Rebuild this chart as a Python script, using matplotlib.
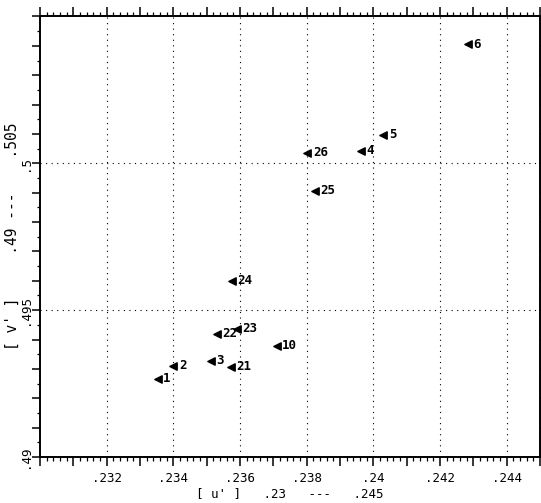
import matplotlib
matplotlib.use("Agg")
import matplotlib.pyplot as plt
from matplotlib.ticker import MultipleLocator, FuncFormatter

labels = ["1", "2", "3", "21", "22", "23", "10", "24", "26", "4", "5", "6", "25"]
u_prime = [0.23353, 0.23400, 0.23513, 0.23573, 0.23530, 0.23590, 0.23710,
           0.23575, 0.23802, 0.23963, 0.24030, 0.24283, 0.23825]
v_prime = [0.49266, 0.49310, 0.49328, 0.49308, 0.49419, 0.49436, 0.49379,
           0.49600, 0.50036, 0.50043, 0.50097, 0.50406, 0.49906]
x_ticks = [0.232, 0.234, 0.236, 0.238, 0.24, 0.242, 0.244]
x_ticklabels = [".232", ".234", ".236", ".238", ".24", ".242", ".244"]
y_ticks = [0.49, 0.495, 0.5]
y_ticklabels = [".49", ".495", ".5"]
x_title = "[ u' ]   .23   ---   .245"
y_title = "[ v' ]     .49 ---    .505"

plt.rcParams['font.family'] = ['DejaVu Sans Mono']

fig = plt.figure(figsize=(5.41, 5.03), dpi=100)
ax = fig.add_axes([0.0739, 0.0915, 0.9242, 0.8757])
ax.set_xlim(0.23, 0.245)
ax.set_ylim(0.49, 0.505)

# dotted grid
for xv in x_ticks:
    ax.axvline(xv, color="black", lw=0.8, ls=(0, (1, 4)), zorder=1)
for yv in y_ticks[1:]:
    ax.axhline(yv, color="black", lw=0.8, ls=(0, (1, 4)), zorder=1)

ax.scatter(u_prime, v_prime, marker="<", s=28, color="black", zorder=3)
for lab, xv, yv in zip(labels, u_prime, v_prime):
    ax.annotate(lab, (xv, yv), xytext=(4, 0), textcoords="offset points",
                va="center", ha="left", fontsize=9, fontweight="bold",
                color="black")


def fmt_from(ticks, texts):
    def f(v, pos):
        for t, s in zip(ticks, texts):
            if abs(v - t) < 1e-7:
                return s
        return ""
    return FuncFormatter(f)


ax.xaxis.set_major_locator(MultipleLocator(0.001))
ax.xaxis.set_minor_locator(MultipleLocator(0.0002))
ax.xaxis.set_major_formatter(fmt_from(x_ticks, x_ticklabels))
ax.yaxis.set_major_locator(MultipleLocator(0.001))
ax.yaxis.set_minor_locator(MultipleLocator(0.0005))
ax.yaxis.set_major_formatter(fmt_from(y_ticks, y_ticklabels))

ax.tick_params(axis="x", which="both", direction="out", top=True, bottom=True,
               labelsize=9)
ax.tick_params(axis="x", which="major", length=6.5, width=1.1, pad=4)
ax.tick_params(axis="x", which="minor", length=3, width=0.9)
ax.tick_params(axis="y", which="both", direction="out", left=True, right=True,
               labelsize=9, labelrotation=90)
ax.tick_params(axis="y", which="major", length=5.5, width=1.1, pad=0)
ax.tick_params(axis="y", which="minor", length=2.5, width=0.9)
for lab in ax.get_yticklabels():
    lab.set_verticalalignment("center")

for sp in ax.spines.values():
    sp.set_linewidth(1.4)

ax.set_xlabel(x_title, fontsize=9, labelpad=2)
ax.set_ylabel(y_title, fontsize=10.5)
ax.yaxis.set_label_coords(-0.040, 0.5)

fig.savefig("out.png", dpi=100)
